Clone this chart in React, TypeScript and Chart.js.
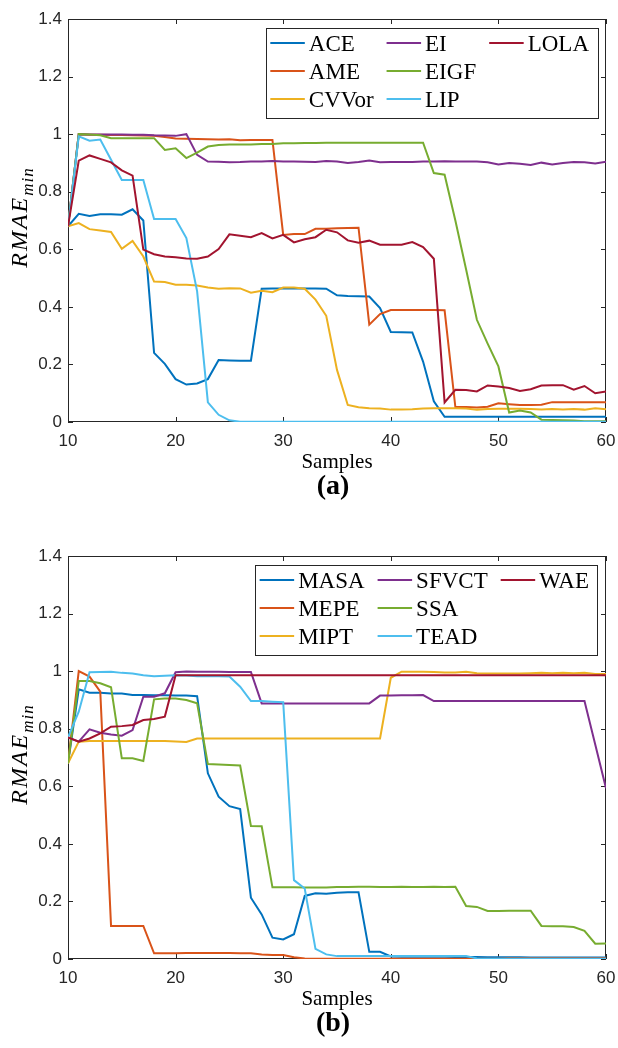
import React, { useEffect, useRef } from "react";
import { Chart, registerables } from "chart.js";

Chart.register(...registerables);

// ---------- shared axes ----------
const samples = [
  10, 11, 12, 13, 14, 15, 16, 17, 18, 19, 20, 21, 22, 23, 24, 25, 26, 27, 28, 29, 30,
  31, 32, 33, 34, 35, 36, 37, 38, 39, 40, 41, 42, 43, 44, 45, 46, 47, 48, 49, 50,
  51, 52, 53, 54, 55, 56, 57, 58, 59, 60,
];
const xTicks = [10, 20, 30, 40, 50, 60];
const xTickLabels = ["10", "20", "30", "40", "50", "60"];
const yTicks = [0, 0.2, 0.4, 0.6, 0.8, 1, 1.2, 1.4];
const yTickLabels = ["0", "0.2", "0.4", "0.6", "0.8", "1", "1.2", "1.4"];
const xTitle = "Samples";
const yTitleMain = "RMAE";
const yTitleSub = "min";

const colors = ["#0072BD", "#D95319", "#EDB120", "#7E2F8E", "#77AC30", "#4DBEEE", "#A2142F"];

// ---------- panel (a) ----------
const labelsA = ["ACE", "AME", "CVVor", "EI", "EIGF", "LIP", "LOLA"];

const aceA = [
  0.68, 0.723, 0.716, 0.722, 0.722, 0.72, 0.739, 0.70, 0.24, 0.202, 0.149,
  0.13, 0.134, 0.149, 0.215, 0.214, 0.213, 0.213, 0.463, 0.464, 0.464,
  0.464, 0.464, 0.464, 0.463, 0.44, 0.438, 0.437, 0.436, 0.396, 0.313,
  0.312, 0.311, 0.21, 0.072, 0.018, 0.018, 0.018, 0.018, 0.018, 0.018,
  0.018, 0.018, 0.018, 0.018, 0.018, 0.018, 0.018, 0.018, 0.018, 0.018,
];
const ameA = [
  0.68, 1.0, 0.998, 0.998, 0.997, 0.997, 0.996, 0.995, 0.994, 0.99, 0.985,
  0.984, 0.983, 0.982, 0.981, 0.982, 0.979, 0.98, 0.98, 0.98, 0.65,
  0.653, 0.653, 0.671, 0.671, 0.673, 0.674, 0.675, 0.338, 0.375, 0.389,
  0.389, 0.389, 0.389, 0.389, 0.388, 0.052, 0.052, 0.05, 0.053, 0.065,
  0.062, 0.059, 0.059, 0.06, 0.069, 0.069, 0.069, 0.069, 0.069, 0.069,
];
const cvvorA = [
  0.68, 0.691, 0.67, 0.665, 0.66, 0.602, 0.629, 0.575, 0.488, 0.486, 0.477,
  0.477, 0.474, 0.467, 0.463, 0.465, 0.464, 0.449, 0.456, 0.451, 0.467,
  0.467, 0.463, 0.425, 0.369, 0.181, 0.059, 0.051, 0.048, 0.047, 0.043,
  0.043, 0.044, 0.047, 0.048, 0.048, 0.048, 0.047, 0.043, 0.045, 0.046,
  0.046, 0.046, 0.045, 0.043, 0.045, 0.043, 0.045, 0.043, 0.048, 0.044,
];
const eiA = [
  0.68, 1.0, 0.999, 0.999, 0.999, 0.999, 0.998, 0.998, 0.996, 0.995, 0.994,
  1.0, 0.928, 0.905, 0.904, 0.902, 0.903, 0.905, 0.905, 0.907, 0.905,
  0.905, 0.904, 0.903, 0.907, 0.905, 0.9, 0.903, 0.908, 0.902, 0.903,
  0.903, 0.903, 0.905, 0.905, 0.906, 0.905, 0.905, 0.905, 0.902, 0.895,
  0.9, 0.897, 0.893, 0.901, 0.895, 0.9, 0.903, 0.902, 0.898, 0.904,
];
const eigfA = [
  0.68, 1.0, 0.999, 0.996, 0.986, 0.986, 0.986, 0.986, 0.986, 0.945, 0.951,
  0.917, 0.936, 0.957, 0.962, 0.964, 0.964, 0.964, 0.966, 0.966, 0.968,
  0.968, 0.969, 0.969, 0.97, 0.97, 0.97, 0.97, 0.97, 0.97, 0.97,
  0.97, 0.97, 0.97, 0.865, 0.859, 0.70, 0.53, 0.355, 0.272, 0.193,
  0.033, 0.04, 0.033, 0.008, 0.007, 0.006, 0.005, 0.003, 0.003, 0.003,
];
const lipA = [
  0.68, 0.992, 0.977, 0.981, 0.911, 0.841, 0.841, 0.841, 0.705, 0.705, 0.705,
  0.639, 0.454, 0.068, 0.025, 0.006, 0.001, 0.001, 0.001, 0.001, 0.001,
  0.001, 0.001, 0.001, 0.001, 0.001, 0.001, 0.001, 0.001, 0.001, 0.001,
  0.001, 0.001, 0.001, 0.001, 0.001, 0.001, 0.001, 0.001, 0.001, 0.001,
  0.001, 0.001, 0.001, 0.001, 0.001, 0.001, 0.001, 0.001, 0.001, 0.001,
];
const lolaA = [
  0.68, 0.908, 0.926, 0.914, 0.902, 0.874, 0.856, 0.599, 0.583, 0.575, 0.572,
  0.568, 0.567, 0.575, 0.601, 0.652, 0.647, 0.642, 0.656, 0.638, 0.65,
  0.624, 0.635, 0.642, 0.668, 0.659, 0.631, 0.623, 0.63, 0.616, 0.616,
  0.616, 0.625, 0.608, 0.567, 0.068, 0.112, 0.111, 0.106, 0.127, 0.123,
  0.118, 0.108, 0.114, 0.127, 0.128, 0.128, 0.112, 0.125, 0.1, 0.106,
];

// ---------- panel (b) ----------
const labelsB = ["MASA", "MEPE", "MIPT", "SFVCT", "SSA", "TEAD", "WAE"];

const masaB = [
  0.68, 0.937, 0.925, 0.925, 0.922, 0.922, 0.917, 0.917, 0.916, 0.916, 0.915,
  0.915, 0.913, 0.645, 0.564, 0.531, 0.521, 0.213, 0.155, 0.074, 0.068,
  0.086, 0.219, 0.228, 0.227, 0.23, 0.232, 0.232, 0.025, 0.025, 0.009,
  0.008, 0.008, 0.008, 0.008, 0.008, 0.007, 0.007, 0.007, 0.006, 0.006,
  0.006, 0.006, 0.005, 0.005, 0.005, 0.005, 0.005, 0.005, 0.005, 0.005,
];
const mepeB = [
  0.68, 1.0, 0.981, 0.929, 0.115, 0.115, 0.115, 0.115, 0.02, 0.02, 0.02,
  0.021, 0.021, 0.021, 0.021, 0.021, 0.02, 0.02, 0.016, 0.014, 0.014,
  0.006, 0.002, 0.001, 0.001, 0.001, 0.001, 0.001, 0.001, 0.001, 0.001,
  0.001, 0.001, 0.001, 0.001, 0.001, 0.001, 0.001, 0.001, 0.001, 0.001,
  0.003, 0.003, 0.003, 0.003, 0.003, 0.003, 0.003, 0.003, 0.003, 0.003,
];
const miptB = [
  0.68, 0.755, 0.757, 0.757, 0.757, 0.757, 0.757, 0.757, 0.757, 0.757, 0.756,
  0.754, 0.766, 0.766, 0.766, 0.766, 0.766, 0.766, 0.766, 0.766, 0.766,
  0.766, 0.766, 0.766, 0.766, 0.766, 0.766, 0.766, 0.766, 0.766, 0.977,
  0.998, 0.998, 0.998, 0.997, 0.995, 0.995, 0.998, 0.993, 0.992, 0.992,
  0.992, 0.992, 0.993, 0.994, 0.993, 0.994, 0.993, 0.994, 0.99, 0.99,
];
const sfvctB = [
  0.77, 0.755, 0.798, 0.786, 0.78, 0.776, 0.795, 0.911, 0.911, 0.923, 0.996,
  0.999, 0.998, 0.998, 0.998, 0.997, 0.997, 0.997, 0.888, 0.888, 0.888,
  0.888, 0.888, 0.888, 0.888, 0.888, 0.888, 0.888, 0.888, 0.915, 0.915,
  0.916, 0.916, 0.917, 0.896, 0.896, 0.896, 0.896, 0.896, 0.896, 0.896,
  0.896, 0.896, 0.896, 0.896, 0.896, 0.896, 0.896, 0.896, 0.745, 0.593,
];
const ssaB = [
  0.68, 0.966, 0.966, 0.958, 0.944, 0.697, 0.697, 0.688, 0.902, 0.905, 0.905,
  0.9, 0.888, 0.677, 0.676, 0.674, 0.672, 0.462, 0.461, 0.249, 0.249,
  0.249, 0.248, 0.248, 0.248, 0.25, 0.25, 0.251, 0.251, 0.25, 0.25,
  0.251, 0.25, 0.25, 0.251, 0.25, 0.251, 0.184, 0.181, 0.167, 0.167,
  0.168, 0.168, 0.168, 0.115, 0.114, 0.114, 0.111, 0.098, 0.053, 0.054,
];
const teadB = [
  0.77, 0.859, 0.996, 0.997, 0.998, 0.994, 0.992, 0.986, 0.982, 0.984, 0.986,
  0.985, 0.982, 0.982, 0.982, 0.981, 0.946, 0.896, 0.896, 0.894, 0.892,
  0.274, 0.245, 0.035, 0.016, 0.01, 0.01, 0.01, 0.01, 0.01, 0.01,
  0.01, 0.01, 0.01, 0.01, 0.01, 0.01, 0.01, 0.002, 0.001, 0.001,
  0.001, 0.001, 0.001, 0.001, 0.001, 0.001, 0.001, 0.001, 0.001, 0.001,
];
const waeB = [
  0.77, 0.755, 0.766, 0.784, 0.807, 0.809, 0.813, 0.83, 0.834, 0.842, 0.986,
  0.986, 0.986, 0.986, 0.986, 0.986, 0.986, 0.986, 0.986, 0.986, 0.986,
  0.986, 0.986, 0.986, 0.986, 0.986, 0.986, 0.986, 0.986, 0.986, 0.986,
  0.986, 0.986, 0.986, 0.986, 0.986, 0.986, 0.986, 0.986, 0.986, 0.986,
  0.986, 0.986, 0.986, 0.986, 0.986, 0.986, 0.986, 0.986, 0.986, 0.986,
];

const seriesA = [aceA, ameA, cvvorA, eiA, eigfA, lipA, lolaA];
const seriesB = [masaB, mepeB, miptB, sfvctB, ssaB, teadB, waeB];

// ---------- layout constants ----------
const AXIS_COLOR = "#262626";
const TICK_FONT = "'Liberation Sans', Arial, Helvetica, sans-serif";
const SERIF = "'Liberation Serif', 'Times New Roman', serif";
const PLOT_TOP = 19;
const PLOT_BOTTOM = 422;
const PLOT_LEFT = 68;
const RIGHT_PAD = 12;

const matlabPlugin = {
  id: "matlabDecor",
  beforeDatasetsDraw(chart: any) {
    const { ctx, chartArea, scales } = chart;
    const { left, right, top, bottom } = chartArea;
    ctx.save();
    ctx.strokeStyle = AXIS_COLOR;
    ctx.lineWidth = 1;
    ctx.strokeRect(Math.round(left) + 0.5, Math.round(top) + 0.5, Math.round(right - left) - 1, Math.round(bottom - top) - 1);
    const tl = 5;
    ctx.beginPath();
    for (const v of xTicks) {
      const px = Math.round(scales.x.getPixelForValue(v)) + 0.5;
      ctx.moveTo(px, bottom);
      ctx.lineTo(px, bottom - tl);
      ctx.moveTo(px, top);
      ctx.lineTo(px, top + tl);
    }
    for (const v of yTicks) {
      const py = Math.round(scales.y.getPixelForValue(v)) + 0.5;
      ctx.moveTo(left, py);
      ctx.lineTo(left + tl, py);
      ctx.moveTo(right, py);
      ctx.lineTo(right - tl, py);
    }
    ctx.stroke();
    ctx.restore();
  },
  afterDraw(chart: any, _args: any, opts: any) {
    const { ctx, chartArea } = chart;
    const { left, right, top, bottom } = chartArea;
    ctx.save();

    // ----- legend (3 rows, column-major) -----
    const ds = chart.data.datasets;
    ctx.font = `23px ${SERIF}`;
    const rows = 3;
    const nCols = Math.ceil(ds.length / rows);
    const colW: number[] = [];
    for (let c = 0; c < nCols; c++) {
      let m = 0;
      for (let r = 0; r < rows; r++) {
        const d = ds[c * rows + r];
        if (d) m = Math.max(m, ctx.measureText(d.label).width);
      }
      colW.push(51.5 + m);
    }
    const boxW = colW.reduce((a, b) => a + b, 0);
    const boxH = 90;
    const boxRight = right - 8.5;
    const boxLeft = boxRight - boxW;
    const boxTop = top + 8.5;
    ctx.fillStyle = "#ffffff";
    ctx.fillRect(boxLeft, boxTop, boxW, boxH);
    ctx.strokeStyle = AXIS_COLOR;
    ctx.lineWidth = 1;
    ctx.strokeRect(Math.round(boxLeft) + 0.5, Math.round(boxTop) + 0.5, Math.round(boxW), Math.round(boxH));
    let cx = boxLeft;
    const rowY = [15.5, 43.5, 71.5];
    for (let c = 0; c < nCols; c++) {
      for (let r = 0; r < rows; r++) {
        const d = ds[c * rows + r];
        if (!d) continue;
        const y = boxTop + rowY[r];
        ctx.strokeStyle = d.borderColor;
        ctx.lineWidth = 2;
        ctx.beginPath();
        ctx.moveTo(cx + 4.5, y);
        ctx.lineTo(cx + 39, y);
        ctx.stroke();
        ctx.fillStyle = "#000";
        ctx.textBaseline = "alphabetic";
        ctx.textAlign = "left";
        ctx.fillText(d.label, cx + 43, y + 7.6);
      }
      cx += colW[c];
    }

    // ----- x title -----
    ctx.fillStyle = "#000";
    ctx.font = `21px ${SERIF}`;
    ctx.textAlign = "center";
    ctx.textBaseline = "alphabetic";
    const midX = (left + right) / 2;
    ctx.fillText(xTitle, midX, bottom + 46);

    // ----- caption -----
    ctx.font = `bold 28px ${SERIF}`;
    ctx.fillText(opts.caption, midX - 4, bottom + 72);

    // ----- y title with subscript -----
    const midY = (top + bottom) / 2 - 3;
    ctx.save();
    ctx.translate(27, midY);
    ctx.rotate(-Math.PI / 2);
    ctx.font = `italic 24px ${SERIF}`;
    (ctx as any).letterSpacing = "2px";
    const wMain = ctx.measureText(yTitleMain).width;
    ctx.font = `italic 17px ${SERIF}`;
    (ctx as any).letterSpacing = "1px";
    const wSub = ctx.measureText(yTitleSub).width;
    const start = -(wMain + wSub) / 2;
    ctx.textAlign = "left";
    ctx.textBaseline = "alphabetic";
    ctx.font = `italic 24px ${SERIF}`;
    (ctx as any).letterSpacing = "2px";
    ctx.fillText(yTitleMain, start, 0);
    ctx.font = `italic 17px ${SERIF}`;
    (ctx as any).letterSpacing = "1px";
    ctx.fillText(yTitleSub, start + wMain, 6);
    ctx.restore();

    ctx.restore();
  },
};

function Panel({ labels, series, caption, top, height }: { labels: string[]; series: number[][]; caption: string; top: number; height: number }) {
  const ref = useRef<HTMLCanvasElement>(null);
  useEffect(() => {
    if (!ref.current) return;
    const chart = new Chart(ref.current, {
      type: "line",
      data: {
        datasets: series.map((vals, i) => ({
          label: labels[i],
          data: vals.map((v, j) => ({ x: samples[j], y: v })),
          borderColor: colors[i],
          backgroundColor: colors[i],
          borderWidth: 2,
          pointRadius: 0,
          pointHoverRadius: 0,
          tension: 0,
          fill: false,
          order: series.length - i,
        })),
      },
      options: {
        responsive: false,
        maintainAspectRatio: false,
        animation: false,
        events: [],
        layout: { padding: { top: PLOT_TOP, right: RIGHT_PAD, left: 0, bottom: 0 } },
        plugins: {
          legend: { display: false },
          tooltip: { enabled: false },
          title: { display: false },
          matlabDecor: { caption },
        } as any,
        scales: {
          x: {
            type: "linear",
            min: 10,
            max: 60,
            grid: { display: false, drawTicks: false },
            border: { display: false },
            ticks: {
              padding: 9,
              color: AXIS_COLOR,
              font: { family: TICK_FONT, size: 17 },
              maxRotation: 0,
              callback: (v: any) => {
                const k = xTicks.indexOf(Number(v));
                return k >= 0 ? xTickLabels[k] : "";
              },
            },
            afterBuildTicks: (s: any) => {
              s.ticks = xTicks.map((v) => ({ value: v }));
            },
            afterFit: (s: any) => {
              s.height = height - PLOT_BOTTOM;
              s.paddingLeft = 0;
              s.paddingRight = 0;
            },
          },
          y: {
            type: "linear",
            min: 0,
            max: 1.4,
            grid: { display: false, drawTicks: false },
            border: { display: false },
            ticks: {
              padding: 6,
              color: AXIS_COLOR,
              font: { family: TICK_FONT, size: 17 },
              callback: (v: any) => {
                const k = yTicks.indexOf(Number(v));
                return k >= 0 ? yTickLabels[k] : "";
              },
            },
            afterBuildTicks: (s: any) => {
              s.ticks = yTicks.map((v) => ({ value: v }));
            },
            afterFit: (s: any) => {
              s.width = PLOT_LEFT;
              s.paddingTop = 0;
              s.paddingBottom = 0;
            },
          },
        },
      } as any,
      plugins: [matlabPlugin as any],
    });
    return () => chart.destroy();
  }, []);
  return (
    <canvas
      ref={ref}
      width={618}
      height={height}
      style={{ position: "absolute", left: 0, top, width: 618, height, display: "block" }}
    />
  );
}

export default function App() {
  return (
    <div style={{ position: "absolute", left: 0, top: 0, width: 618, height: 1048, background: "#ffffff" }}>
      <Panel labels={labelsA} series={seriesA} caption="(a)" top={0} height={537} />
      <Panel labels={labelsB} series={seriesB} caption="(b)" top={537} height={511} />
    </div>
  );
}
